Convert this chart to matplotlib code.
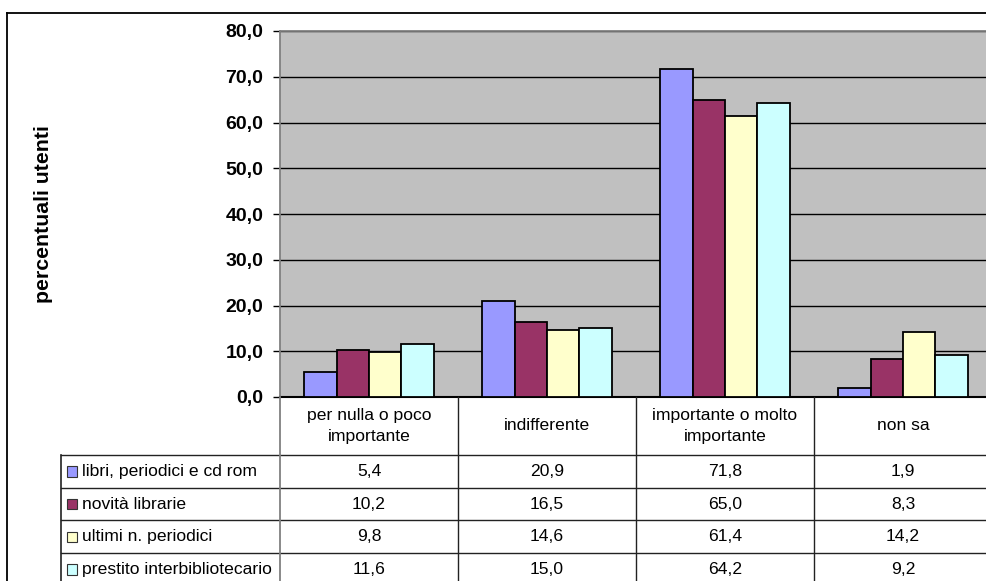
import matplotlib
matplotlib.use("Agg")
import matplotlib.pyplot as plt
from matplotlib.lines import Line2D
from matplotlib.patches import Rectangle
import numpy as np

plt.rcParams['font.family'] = ['Liberation Sans', 'DejaVu Sans']

# ---- data ----
categories = ["per nulla o poco\nimportante", "indifferente",
              "importante o molto\nimportante", "non sa"]
series_names = ["libri, periodici e cd rom", "novità librarie",
                "ultimi n. periodici", "prestito interbibliotecario"]
libri = [5.4, 20.9, 71.8, 1.9]
novita = [10.2, 16.5, 65.0, 8.3]
ultimi = [9.8, 14.6, 61.4, 14.2]
prestito = [11.6, 15.0, 64.2, 9.2]
series_values = [libri, novita, ultimi, prestito]
colors = ["#9999FF", "#993366", "#FFFFCC", "#CCFFFF"]
yticks = [0, 10, 20, 30, 40, 50, 60, 70, 80]

# ---- layout (pixels) ----
W, H = 987, 581
plot_l, plot_r = 280, 992
plot_t, plot_b = 31, 397
cat_w = (plot_r - plot_l) / len(categories)
legend_l = 61
header_h = 58
row_h = 32.7

fig = plt.figure(figsize=(W / 100, H / 100), dpi=100)

ax = fig.add_axes([plot_l / W, (H - plot_b) / H,
                   (plot_r - plot_l) / W, (plot_b - plot_t) / H])
ax.set_facecolor("#C0C0C0")
n = len(series_values)
bw = 0.1825
x = np.arange(len(categories)) + 0.5
for i, (vals, c) in enumerate(zip(series_values, colors)):
    ax.bar(x + (i - (n - 1) / 2) * bw, vals, width=bw, color=c,
           edgecolor="black", linewidth=1.3, zorder=3)
ax.set_xlim(0, len(categories))
ax.set_ylim(0, 80)
ax.set_yticks(yticks)
ax.set_yticklabels([f"{v:.1f}".replace(".", ",") for v in yticks],
                   fontsize=14, fontweight="bold")
ax.tick_params(axis="y", length=5, pad=7, width=1, color="black")
ax.set_xticks([])
ax.yaxis.grid(True, color="black", linewidth=1)
ax.set_axisbelow(True)
for s in ["left", "top", "right"]:
    ax.spines[s].set_color("#808080")
    ax.spines[s].set_linewidth(1.3)
ax.spines["bottom"].set_color("black")
ax.spines["bottom"].set_linewidth(1.5)

fig.text(44 / W, 1 - ((plot_t + plot_b) / 2) / H, "percentuali utenti",
         rotation=90, ha="center", va="center", fontsize=15.3,
         fontweight="bold")

# ---- data table ----
n_rows = len(series_names)
tab_h_units = header_h / row_h + n_rows
tab_bottom_px = plot_b + header_h + n_rows * row_h
tax = fig.add_axes([legend_l / W, (H - tab_bottom_px) / H,
                    (plot_r - legend_l) / W, (tab_bottom_px - plot_b) / H])
tax.set_xlim(-(plot_l - legend_l) / cat_w, len(categories))
tax.set_ylim(tab_h_units, 0)
tax.axis("off")
hh = header_h / row_h
lc = "#222222"
# horizontal lines
for r in range(n_rows + 1):
    y = hh + r
    tax.plot([tax.get_xlim()[0], len(categories)], [y, y], color=lc,
             lw=1, clip_on=False)
# vertical lines
tax.plot([tax.get_xlim()[0]] * 2, [hh, tab_h_units], color=lc, lw=1.2,
         clip_on=False)
tax.plot([0, 0], [0, tab_h_units], color="#808080", lw=1.3, clip_on=False)
for j in range(1, len(categories) + 1):
    tax.plot([j, j], [0, tab_h_units], color=lc, lw=1, clip_on=False)
# header text
for j, cat in enumerate(categories):
    tax.text(j + 0.5, hh / 2, cat, ha="center", va="center", fontsize=12.6,
             linespacing=1.45)
# rows
mk = 10 / cat_w
x0 = tax.get_xlim()[0]
for r, (name, vals, c) in enumerate(zip(series_names, series_values, colors)):
    yc = hh + r + 0.5
    tax.add_patch(Rectangle((x0 + 6 / cat_w, yc - 0.16), mk, 0.32,
                            facecolor=c, edgecolor="#333333", lw=0.8,
                            clip_on=False))
    tax.text(x0 + 21 / cat_w, yc, name, ha="left", va="center", fontsize=12.6)
    for j, v in enumerate(vals):
        tax.text(j + 0.5, yc, f"{v:.1f}".replace(".", ","), ha="center",
                 va="center", fontsize=12.6)

# outer chart frame
fig.add_artist(Line2D([7 / W, 1], [1 - 13 / H] * 2, color="black", lw=1.3,
                      transform=fig.transFigure))
fig.add_artist(Line2D([7 / W] * 2, [0, 1 - 13 / H], color="black", lw=1.3,
                      transform=fig.transFigure))

fig.savefig("out.png", dpi=100)
